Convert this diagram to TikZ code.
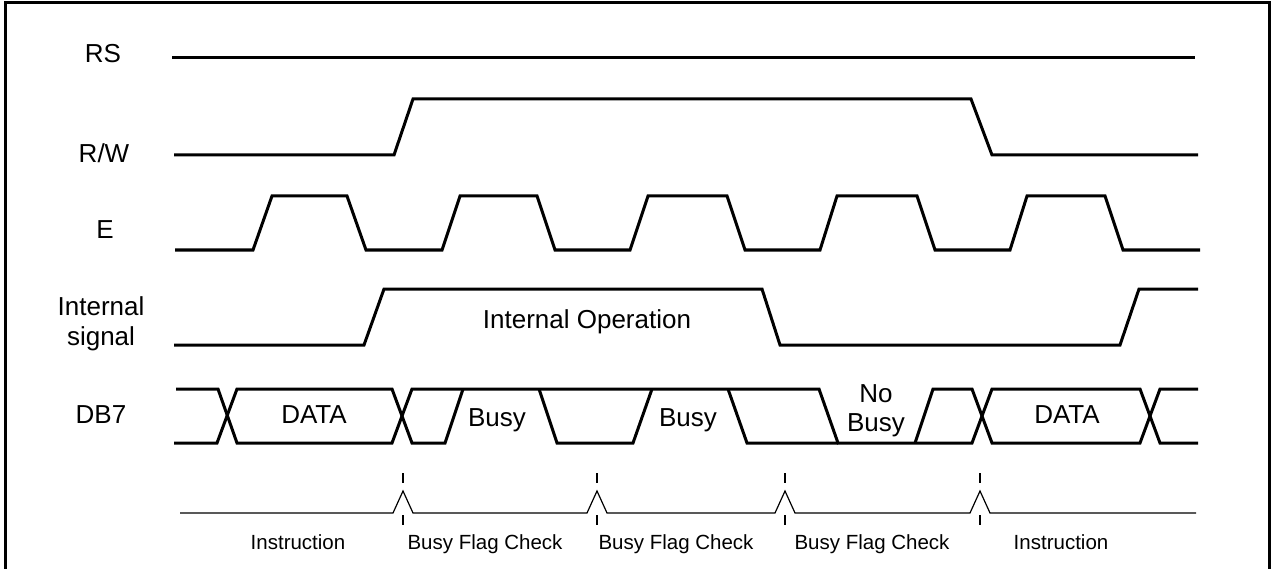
\documentclass[tikz,border=0pt]{standalone}
\usepackage{fontspec}
\setmainfont{Liberation Sans}
\tikzset{
x=1pt, y=-1pt, % one unit is one pixel of the drawing, y runs downwards
wave/.style={line width=3pt, line join=miter}, % the signal traces
frame/.style={line width=3pt}, % the box round the drawing
timeline/.style={line width=1.2pt}, % thin time axis under the traces
tick/.style={line width=2.2pt}, % short marks above and below each bump
signame/.style={font=\fontsize{26}{30}\selectfont, align=center}, % names on the left
wavetext/.style={font=\fontsize{26}{29}\selectfont, align=center}, % texts inside the traces
phase/.style={font=\fontsize{20.5}{24}\selectfont, anchor=base}, % names of the phases
}
\begin{document}
\begin{tikzpicture}
              \useasboundingbox (0,0) rectangle (1273,569);
              \draw[frame] (5,569) -- (5,3) -- (1269,3) -- (1269,569);

              % names of the signals
              \node[signame, anchor=base] (rs) at (103,63) {RS};
              \node[signame, anchor=base] (rw) at (104,163) {R/W};
              \node[signame, anchor=base] (e) at (105,239) {E};
              \node[signame] (int) at (101,324) {Internal\\signal};
              \node[signame, anchor=base] (db) at (101,423) {DB7};

              % RS and R/W
              \draw[wave] (172,58) -- (1195,58);
              \draw[wave] (174,155) -- (394,155) -- (413,99) -- (971,99) -- (992,155) -- (1198,155);

              % E
              \draw[wave] (175,250) -- (253,250) -- (272,196) -- (347,196) -- (366,250)
                -- (442,250) -- (460,196) -- (537,196) -- (555,250)
                -- (630,250) -- (648,196) -- (727,196) -- (745,250)
                -- (820,250) -- (837,196) -- (917,196) -- (935,250)
                -- (1010,250) -- (1027,196) -- (1105,196) -- (1123,250) -- (1200,250);

              % internal signal
              \draw[wave] (174,345) -- (364,345) -- (384,289) -- (762,289) -- (780,345)
                -- (1120,345) -- (1139,289) -- (1198,289);
              \node[wavetext, anchor=base] (op) at (587,328) {Internal Operation};

              % DB7
              \draw[wave] (176,389) -- (218,389) -- (237,443) -- (392,443) -- (412,389)
                -- (819,389) -- (838,443) -- (972,443) -- (992,389) -- (1140,389)
                -- (1160,443) -- (1198,443);
              \draw[wave] (174,443) -- (217,443) -- (237,389) -- (392,389) -- (412,443)
                -- (445,443) -- (463,389);
              \draw[wave] (539,389) -- (557,443) -- (633,443) -- (652,389);
              \draw[wave] (728,389) -- (747,443) -- (838,443);
              \draw[wave] (915,443) -- (933,389) -- (972,389) -- (992,443) -- (1140,443)
                -- (1160,389) -- (1198,389);
              \node[wavetext, anchor=base] (data1) at (314,423) {DATA};
              \node[wavetext, anchor=base] (busy1) at (497,426) {Busy};
              \node[wavetext, anchor=base] (busy2) at (688,426) {Busy};
              \node[wavetext] (nobusy) at (876,411) {No\\Busy};
              \node[wavetext, anchor=base] (data2) at (1067,423) {DATA};

              % time line with its phases
              \draw[timeline] (180,513) -- (393,513) -- (403,491) -- (413,513)
                -- (587,513) -- (597,491) -- (607,513)
                -- (775,513) -- (785,491) -- (795,513)
                -- (970,513) -- (980,491) -- (990,513) -- (1196,513);
              \draw[tick]
              (403,473) -- (403,483) (403,515) -- (403,525)
              (597,473) -- (597,483) (597,515) -- (597,525)
              (785,473) -- (785,483) (785,515) -- (785,525)
              (980,473) -- (980,483) (980,515) -- (980,525)
              ;
              \node[phase] (ph1) at (298,549) {Instruction};
              \node[phase] (ph2) at (485,549) {Busy Flag Check};
              \node[phase] (ph3) at (676,549) {Busy Flag Check};
              \node[phase] (ph4) at (872,549) {Busy Flag Check};
              \node[phase] (ph5) at (1061,549) {Instruction};
            \end{tikzpicture}
\end{document}
